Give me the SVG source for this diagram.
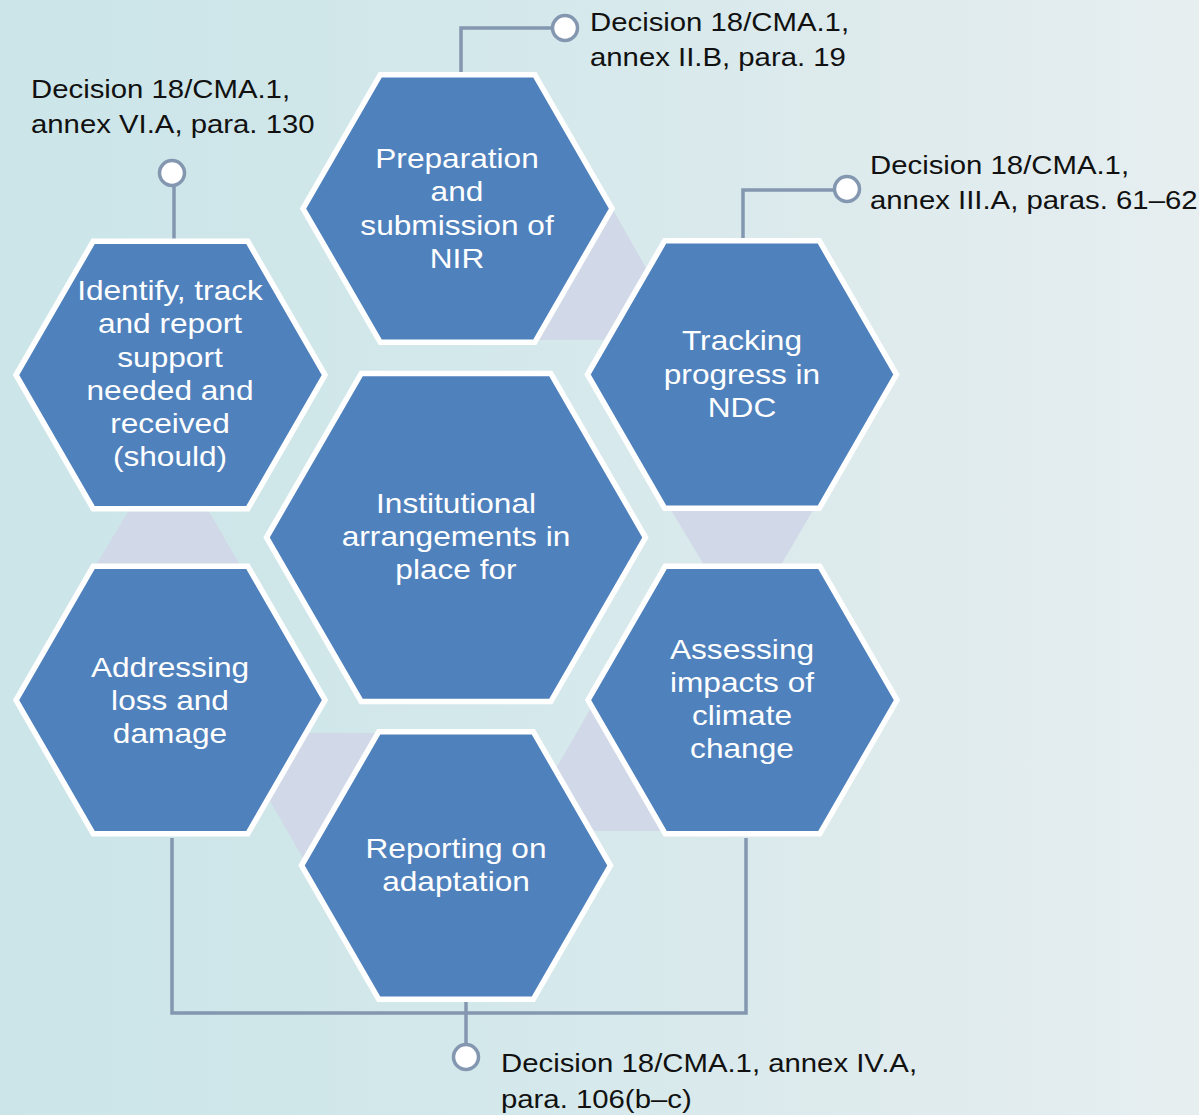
<svg xmlns="http://www.w3.org/2000/svg" xmlns:xlink="http://www.w3.org/1999/xlink" width="1199" height="1115" viewBox="0 0 1199 1115">
<defs>
<linearGradient id="bg" x1="0" y1="0" x2="1" y2="0">
<stop offset="0" stop-color="#cbe5e8"/>
<stop offset="0.4" stop-color="#d3e8eb"/>
<stop offset="0.75" stop-color="#dfebed"/>
<stop offset="1" stop-color="#e6eef0"/>
</linearGradient>
<path id="hex" d="M-154.5 0 L-77.25 -133.8 L77.25 -133.8 L154.5 0 L77.25 133.8 L-77.25 133.8 Z"/>
<path id="hexC" d="M-189.5 0 L-94.75 -164.1 L94.75 -164.1 L189.5 0 L94.75 164.1 L-94.75 164.1 Z"/>
</defs>
<style>
.hx{fill:#4f81bd;stroke:#ffffff;stroke-width:5.5;stroke-linejoin:miter}
.band{fill:#d1d8e7}
.ln{fill:none;stroke:#8497b0;stroke-width:3.5}
.dot{fill:#ffffff;stroke:#8497b0;stroke-width:3.5}
.lbl{font-family:"Liberation Sans",Arial,sans-serif;font-size:28px;fill:#ffffff;text-anchor:middle}
.ref{font-family:"Liberation Sans",Arial,sans-serif;font-size:25.5px;fill:#111111}
</style>
<rect x="0" y="0" width="1199" height="1115" fill="url(#bg)"/>

<g id="bands">
<polygon class="band" points="612,208 687,340 537,340"/>
<polygon class="band" points="665,500 819,500 778,570 707,570"/>
<polygon class="band" points="592,706 664,831 520,831"/>
<polygon class="band" points="230.7,733 377.3,733 304,860"/>
<polygon class="band" points="135,500 202,500 243,570 93,570"/>
</g>

<g id="connectors">
<path class="ln" d="M461 73 V28 H552"/>
<circle class="dot" cx="565" cy="28" r="12.5"/>
<path class="ln" d="M174 186 V240"/>
<circle class="dot" cx="172" cy="173" r="12.5"/>
<path class="ln" d="M743 239 V190 H834"/>
<circle class="dot" cx="847" cy="189" r="12.5"/>
<path class="ln" d="M172 838 V1013 H746 V838"/>
<path class="ln" d="M466 1002 V1044"/>
<circle class="dot" cx="466" cy="1057" r="12.5"/>
</g>

<g id="node-prep">
<use xlink:href="#hex" href="#hex" class="hx" x="457.5" y="208.5"/>
<g transform="translate(457 0) scale(1.13 1)">
<text class="lbl" x="0" y="168">Preparation</text>
<text class="lbl" x="0" y="201">and</text>
<text class="lbl" x="0" y="235">submission of</text>
<text class="lbl" x="0" y="268">NIR</text>
</g>
</g>

<g id="node-tracking">
<use xlink:href="#hex" href="#hex" class="hx" x="742" y="374.5"/>
<g transform="translate(742 0) scale(1.13 1)">
<text class="lbl" x="0" y="350">Tracking</text>
<text class="lbl" x="0" y="384">progress in</text>
<text class="lbl" x="0" y="417">NDC</text>
</g>
</g>

<g id="node-assessing">
<use xlink:href="#hex" href="#hex" class="hx" x="742.5" y="700"/>
<g transform="translate(742 0) scale(1.13 1)">
<text class="lbl" x="0" y="659">Assessing</text>
<text class="lbl" x="0" y="692">impacts of</text>
<text class="lbl" x="0" y="725">climate</text>
<text class="lbl" x="0" y="758">change</text>
</g>
</g>

<g id="node-reporting">
<use xlink:href="#hex" href="#hex" class="hx" x="456" y="865.5"/>
<g transform="translate(456 0) scale(1.13 1)">
<text class="lbl" x="0" y="858">Reporting on</text>
<text class="lbl" x="0" y="891">adaptation</text>
</g>
</g>

<g id="node-addressing">
<use xlink:href="#hex" href="#hex" class="hx" x="170.5" y="700"/>
<g transform="translate(170 0) scale(1.13 1)">
<text class="lbl" x="0" y="677">Addressing</text>
<text class="lbl" x="0" y="710">loss and</text>
<text class="lbl" x="0" y="743">damage</text>
</g>
</g>

<g id="node-identify">
<use xlink:href="#hex" href="#hex" class="hx" x="170.5" y="375"/>
<g transform="translate(170 0) scale(1.13 1)">
<text class="lbl" x="0" y="300">Identify, track</text>
<text class="lbl" x="0" y="333">and report</text>
<text class="lbl" x="0" y="367">support</text>
<text class="lbl" x="0" y="400">needed and</text>
<text class="lbl" x="0" y="433">received</text>
<text class="lbl" x="0" y="466">(should)</text>
</g>
</g>

<g id="node-institutional">
<use xlink:href="#hexC" href="#hexC" class="hx" x="456" y="537.5"/>
<g transform="translate(456 0) scale(1.13 1)">
<text class="lbl" x="0" y="513">Institutional</text>
<text class="lbl" x="0" y="546">arrangements in</text>
<text class="lbl" x="0" y="579">place for</text>
</g>
</g>

<g id="ref-nir" transform="translate(590 0) scale(1.15 1)">
<text class="ref" x="0" y="31">Decision 18/CMA.1,</text>
<text class="ref" x="0" y="66">annex II.B, para. 19</text>
</g>
<g id="ref-support" transform="translate(31 0) scale(1.15 1)">
<text class="ref" x="0" y="98">Decision 18/CMA.1,</text>
<text class="ref" x="0" y="133">annex VI.A, para. 130</text>
</g>
<g id="ref-ndc" transform="translate(870 0) scale(1.15 1)">
<text class="ref" x="0" y="174">Decision 18/CMA.1,</text>
<text class="ref" x="0" y="209">annex III.A, paras. 61–62</text>
</g>
<g id="ref-adapt" transform="translate(501 0) scale(1.15 1)">
<text class="ref" x="0" y="1072">Decision 18/CMA.1, annex IV.A,</text>
<text class="ref" x="0" y="1108">para. 106(b–c)</text>
</g>
</svg>
